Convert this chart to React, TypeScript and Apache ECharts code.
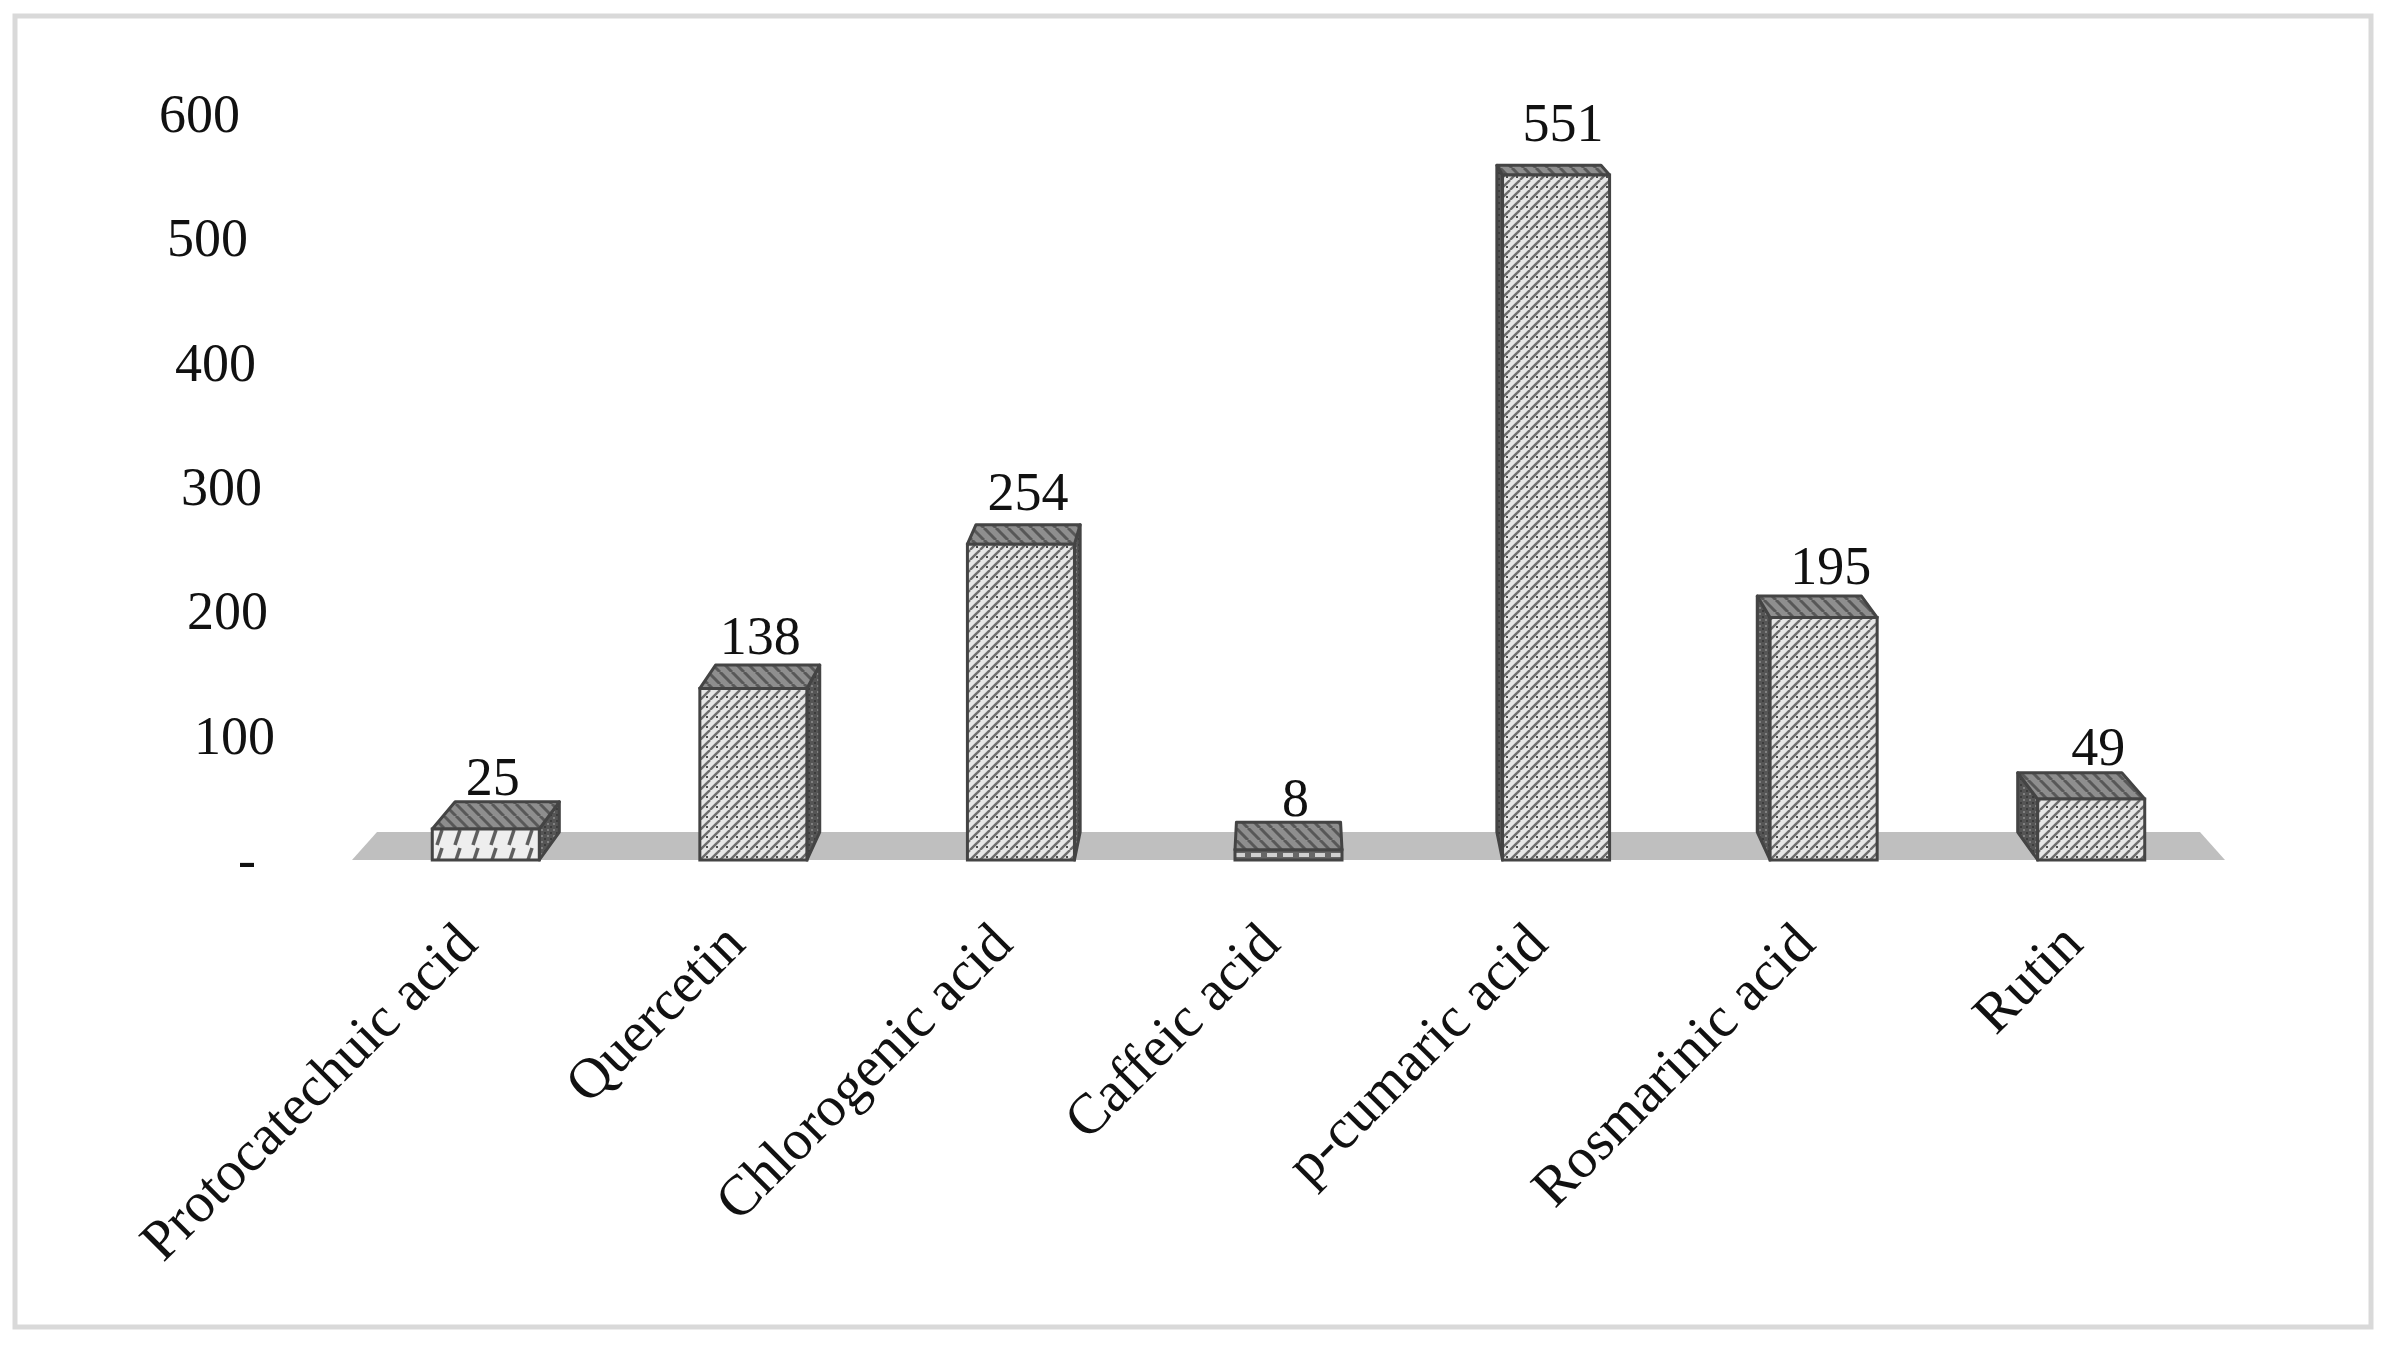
import React, { useEffect, useRef } from 'react';
import * as echarts from 'echarts';

const categories = [
  'Protocatechuic acid',
  'Quercetin',
  'Chlorogenic acid',
  'Caffeic acid',
  'p-cumaric acid',
  'Rosmarinic acid',
  'Rutin',
];
const values = [25, 138, 254, 8, 551, 195, 49];
const yTickValues = [0, 100, 200, 300, 400, 500, 600];
const yTickTexts = ['-', '100', '200', '300', '400', '500', '600'];
const yLabelShift = [19, 0, 7, 13, 19, 27, 35];

const FONT = "'Liberation Serif', 'Times New Roman', serif";

function makeCanvas(w: number, h: number, draw: (g: CanvasRenderingContext2D) => void) {
  const c = document.createElement('canvas');
  c.width = w;
  c.height = h;
  const g = c.getContext('2d') as CanvasRenderingContext2D;
  draw(g);
  return c;
}

function buildPatterns() {
  const front = makeCanvas(10, 10, (g) => {
    g.fillStyle = '#e6e6e6';
    g.fillRect(0, 0, 10, 10);
    g.strokeStyle = '#6c6c6c';
    g.lineWidth = 2.4;
    for (const o of [-10, 0, 10]) {
      g.beginPath();
      g.moveTo(o, 10);
      g.lineTo(o + 10, 0);
      g.stroke();
    }
    g.fillStyle = '#4a4a4a';
    g.fillRect(6, 6, 2, 2);
  });
  const front1 = makeCanvas(18, 18, (g) => {
    g.fillStyle = '#eeeeee';
    g.fillRect(0, 0, 18, 18);
    g.strokeStyle = '#5e5e5e';
    g.lineWidth = 3.5;
    g.beginPath();
    g.moveTo(5, 17);
    g.lineTo(10, 2);
    g.stroke();
  });
  const front4 = makeCanvas(16, 10, (g) => {
    g.fillStyle = '#666666';
    g.fillRect(0, 0, 16, 10);
    g.fillStyle = '#d0d0d0';
    g.fillRect(3, 3, 10, 4);
  });
  const side = makeCanvas(6, 6, (g) => {
    g.fillStyle = '#555555';
    g.fillRect(0, 0, 6, 6);
    g.fillStyle = '#808080';
    g.fillRect(1, 1, 2, 2);
    g.fillStyle = '#3c3c3c';
    g.fillRect(4, 4, 2, 2);
  });
  const top = makeCanvas(12, 12, (g) => {
    g.fillStyle = '#8e8e8e';
    g.fillRect(0, 0, 12, 12);
    g.strokeStyle = '#585858';
    g.lineWidth = 3;
    for (const o of [-12, 0, 12]) {
      g.beginPath();
      g.moveTo(o, 0);
      g.lineTo(o + 12, 12);
      g.stroke();
    }
  });
  return { front, front1, front4, side, top };
}

export default function App() {
  const ref = useRef<HTMLDivElement>(null);

  useEffect(() => {
    if (!ref.current) return;
    const chart = echarts.init(ref.current, undefined, { renderer: 'svg' });
    const P = buildPatterns();
    const pat = (c: HTMLCanvasElement) => ({ image: c, repeat: 'repeat' as const });

    const S = 0.9733; // back-face scale towards vanishing point
    const VP_DY = 1047; // vanishing point height above the floor front line

    const rich: Record<string, any> = {};
    yTickValues.forEach((v, i) => {
      rich['t' + v] = {
        fontSize: 54,
        fontFamily: FONT,
        color: '#111',
        padding: [0, yLabelShift[i], 0, 0],
      };
    });

    const option: any = {
      animation: false,
      backgroundColor: '#ffffff',
      grid: { left: 352, right: 162, top: 114, bottom: 490, containLabel: false },
      graphic: [
        {
          type: 'rect',
          shape: { x: 15, y: 16, width: 2356, height: 1311 },
          style: { fill: 'none', stroke: '#d9d9d9', lineWidth: 5 },
          z: -10,
          silent: true,
        },
      ],
      xAxis: {
        type: 'category',
        data: categories,
        axisLine: { show: false },
        axisTick: { show: false },
        splitLine: { show: false },
        axisLabel: {
          rotate: 45,
          interval: 0,
          margin: 53,
          fontSize: 57,
          fontFamily: FONT,
          color: '#111',
          padding: [0, 28, 0, 0],
        },
      },
      yAxis: {
        type: 'value',
        min: 0,
        max: 600,
        interval: 100,
        axisLine: { show: false },
        axisTick: { show: false },
        splitLine: { show: false },
        axisLabel: {
          margin: 77,
          formatter: (v: number) => {
            const i = yTickValues.indexOf(v);
            return '{t' + v + '|' + (i >= 0 ? yTickTexts[i] : String(v)) + '}';
          },
          rich,
        },
      },
      series: [
        {
          type: 'custom',
          name: 'floor',
          z: 1,
          silent: true,
          data: [[0, 0]],
          encode: { x: 0, y: 1 },
          renderItem: (params: any, api: any) => {
            const cs = params.coordSys;
            const yB = cs.y + cs.height;
            const vx = cs.x + cs.width / 2;
            const vy = yB - VP_DY;
            const pr = (x: number, y: number) => [vx + S * (x - vx), vy + S * (y - vy)];
            const x0 = cs.x;
            const x1 = cs.x + cs.width;
            return {
              type: 'polygon',
              shape: { points: [[x0, yB], [x1, yB], pr(x1, yB), pr(x0, yB)] },
              style: { fill: '#bfbfbf', stroke: 'none' },
            };
          },
        },
        {
          type: 'custom',
          name: 'bars',
          z: 2,
          data: categories.map((c, i) => [i, values[i]]),
          encode: { x: 0, y: 1 },
          renderItem: (params: any, api: any) => {
            const cs = params.coordSys;
            const idx = api.value(0);
            const val = api.value(1);
            const base = api.coord([idx, 0]);
            const topP = api.coord([idx, val]);
            const band = api.size([1, 0])[0];
            const w = band * 0.4;
            const cx = base[0];
            const x0 = cx - w / 2;
            const x1 = cx + w / 2;
            const yT = topP[1];
            const yB = base[1];
            const vx = cs.x + cs.width / 2;
            const vy = yB - VP_DY;
            const pr = (x: number, y: number) => [vx + S * (x - vx), vy + S * (y - vy)];
            const stroke = '#444444';
            const lw = 3;
            const children: any[] = [];
            if (cx < vx - 5) {
              children.push({
                type: 'polygon',
                shape: { points: [[x1, yT], [x1, yB], pr(x1, yB), pr(x1, yT)] },
                style: { fill: pat(P.side), stroke, lineWidth: lw, lineJoin: 'round' },
              });
            } else if (cx > vx + 5) {
              children.push({
                type: 'polygon',
                shape: { points: [[x0, yT], [x0, yB], pr(x0, yB), pr(x0, yT)] },
                style: { fill: pat(P.side), stroke, lineWidth: lw, lineJoin: 'round' },
              });
            }
            children.push({
              type: 'polygon',
              shape: { points: [[x0, yT], [x1, yT], pr(x1, yT), pr(x0, yT)] },
              style: { fill: pat(P.top), stroke, lineWidth: lw, lineJoin: 'round' },
            });
            const fp = idx === 0 ? P.front1 : idx === 3 ? P.front4 : P.front;
            children.push({
              type: 'rect',
              shape: { x: x0, y: yT, width: w, height: yB - yT },
              style: { fill: pat(fp), stroke, lineWidth: lw },
            });
            children.push({
              type: 'text',
              style: {
                text: String(val),
                x: cx + 7,
                y: yT - 52,
                align: 'center',
                verticalAlign: 'middle',
                fontSize: 54,
                fontFamily: FONT,
                fill: '#111',
              },
            });
            return { type: 'group', children };
          },
        },
      ],
    };

    chart.setOption(option);
    return () => {
      chart.dispose();
    };
  }, []);

  return (
    <div
      ref={ref}
      style={{ position: 'fixed', left: 0, top: 0, width: 2387, height: 1350, background: '#fff' }}
    />
  );
}
